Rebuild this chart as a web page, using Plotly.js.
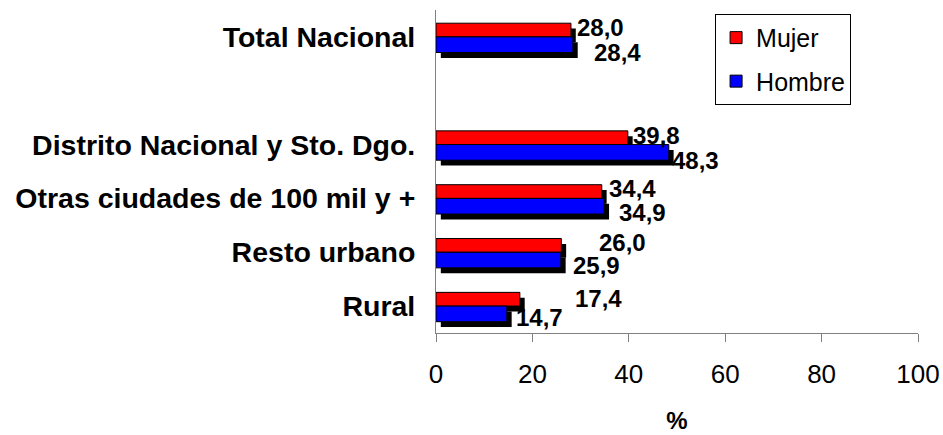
<!DOCTYPE html>
<html>
<head>
<meta charset="utf-8">
<script src="https://cdn.plot.ly/plotly-3.0.1.min.js"></script>
<style>html,body{margin:0;padding:0;background:#fff;}#chart{width:943px;height:435px;}</style>
</head>
<body>
<div id="chart"></div>
<script>
// ---- data ----
const categories = ["Total Nacional", "Distrito Nacional y Sto. Dgo.", "Otras ciudades de 100 mil y +", "Resto urbano", "Rural"];
const mujer = [28.0, 39.8, 34.4, 26.0, 17.4];
const hombre = [28.4, 48.3, 34.9, 25.9, 14.7];
const seriesNames = ["Mujer", "Hombre"];
const xTicks = [0, 20, 40, 60, 80, 100];

// ---- layout helpers (not data) ----
const gapCat = " ";
const catOrder = categories.slice().reverse();
catOrder.splice(4, 0, gapCat); // blank slot between Total and the rest
const FONT = "Liberation Sans, Arial, sans-serif";
const RED = "#ff0000", BLUE = "#0000ff";
const wR = 0.255, wB = 0.29;
const shadowDx = 1.0, shadowDy = 0.1;
// label pixel nudges (x, y) per category
const redShift = [[5, 3], [4, 2], [6, 3], [37, 3], [54, 1]];
const blueShift = [[20, -8], [2, -8], [14, -6], [11, -5], [8, -4]];

const fmt = v => v.toFixed(1).replace('.', ',');

const traces = [
  {type: 'bar', orientation: 'h', y: categories, x: mujer, base: shadowDx, offset: -shadowDy, width: wR,
   marker: {color: '#000'}, showlegend: false, hoverinfo: 'skip'},
  {type: 'bar', orientation: 'h', y: categories, x: hombre, base: shadowDx, offset: -wB - shadowDy, width: wB,
   marker: {color: '#000'}, showlegend: false, hoverinfo: 'skip'},
  {type: 'bar', orientation: 'h', name: seriesNames[0], legendgroup: 'm', y: categories, x: mujer, offset: 0, width: wR,
   marker: {color: RED, line: {color: '#000', width: 1}}},
  {type: 'bar', orientation: 'h', name: seriesNames[1], legendgroup: 'h', y: categories, x: hombre, offset: -wB, width: wB,
   marker: {color: BLUE, line: {color: '#000', width: 1}}}
];

const annotations = [];
categories.forEach((c, i) => {
  annotations.push({x: mujer[i], y: catOrder.indexOf(c) + wR / 2, xref: 'x', yref: 'y', text: fmt(mujer[i]),
    showarrow: false, xanchor: 'left', yanchor: 'middle', xshift: redShift[i][0], yshift: redShift[i][1],
    borderpad: 0, font: {family: FONT, size: 24, color: '#000', weight: 'bold'}});
  annotations.push({x: hombre[i], y: catOrder.indexOf(c) - wB / 2, xref: 'x', yref: 'y', text: fmt(hombre[i]),
    showarrow: false, xanchor: 'left', yanchor: 'middle', xshift: blueShift[i][0], yshift: blueShift[i][1],
    borderpad: 0, font: {family: FONT, size: 24, color: '#000', weight: 'bold'}});
});

const layout = {
  width: 943, height: 435,
  margin: {l: 436, r: 25, t: 10, b: 102, pad: 0},
  paper_bgcolor: '#fff', plot_bgcolor: '#fff',
  barmode: 'overlay',
  showlegend: true,
  legend: {x: 0.579, y: 0.988, xanchor: 'left', yanchor: 'top', bgcolor: '#fff', bordercolor: '#000', borderwidth: 1,
    font: {family: FONT, size: 25, color: '#000'}, traceorder: 'grouped', tracegroupgap: 8},
  xaxis: {range: [0, 100], tickvals: xTicks, ticks: 'outside', ticklen: 8, tickcolor: '#808080', tickwidth: 1,
    showline: true, linecolor: '#808080', linewidth: 1, showgrid: false, zeroline: false, fixedrange: true,
    ticklabelstandoff: 10,
    tickfont: {family: FONT, size: 26, color: '#000'},
    title: {text: '%', font: {family: FONT, size: 24, color: '#000', weight: 'bold'}, standoff: 23}},
  yaxis: {type: 'category', categoryorder: 'array', categoryarray: catOrder, range: [-0.5, 5.5],
    showline: true, linecolor: '#808080', linewidth: 1, ticks: '', showgrid: false, zeroline: false, fixedrange: true,
    ticklabelstandoff: 14,
    tickfont: {family: FONT, size: 28.5, color: '#000', weight: 'bold'}},
  annotations: annotations
};

Plotly.newPlot('chart', traces, layout, {displayModeBar: false, staticPlot: true});
</script>
</body>
</html>
